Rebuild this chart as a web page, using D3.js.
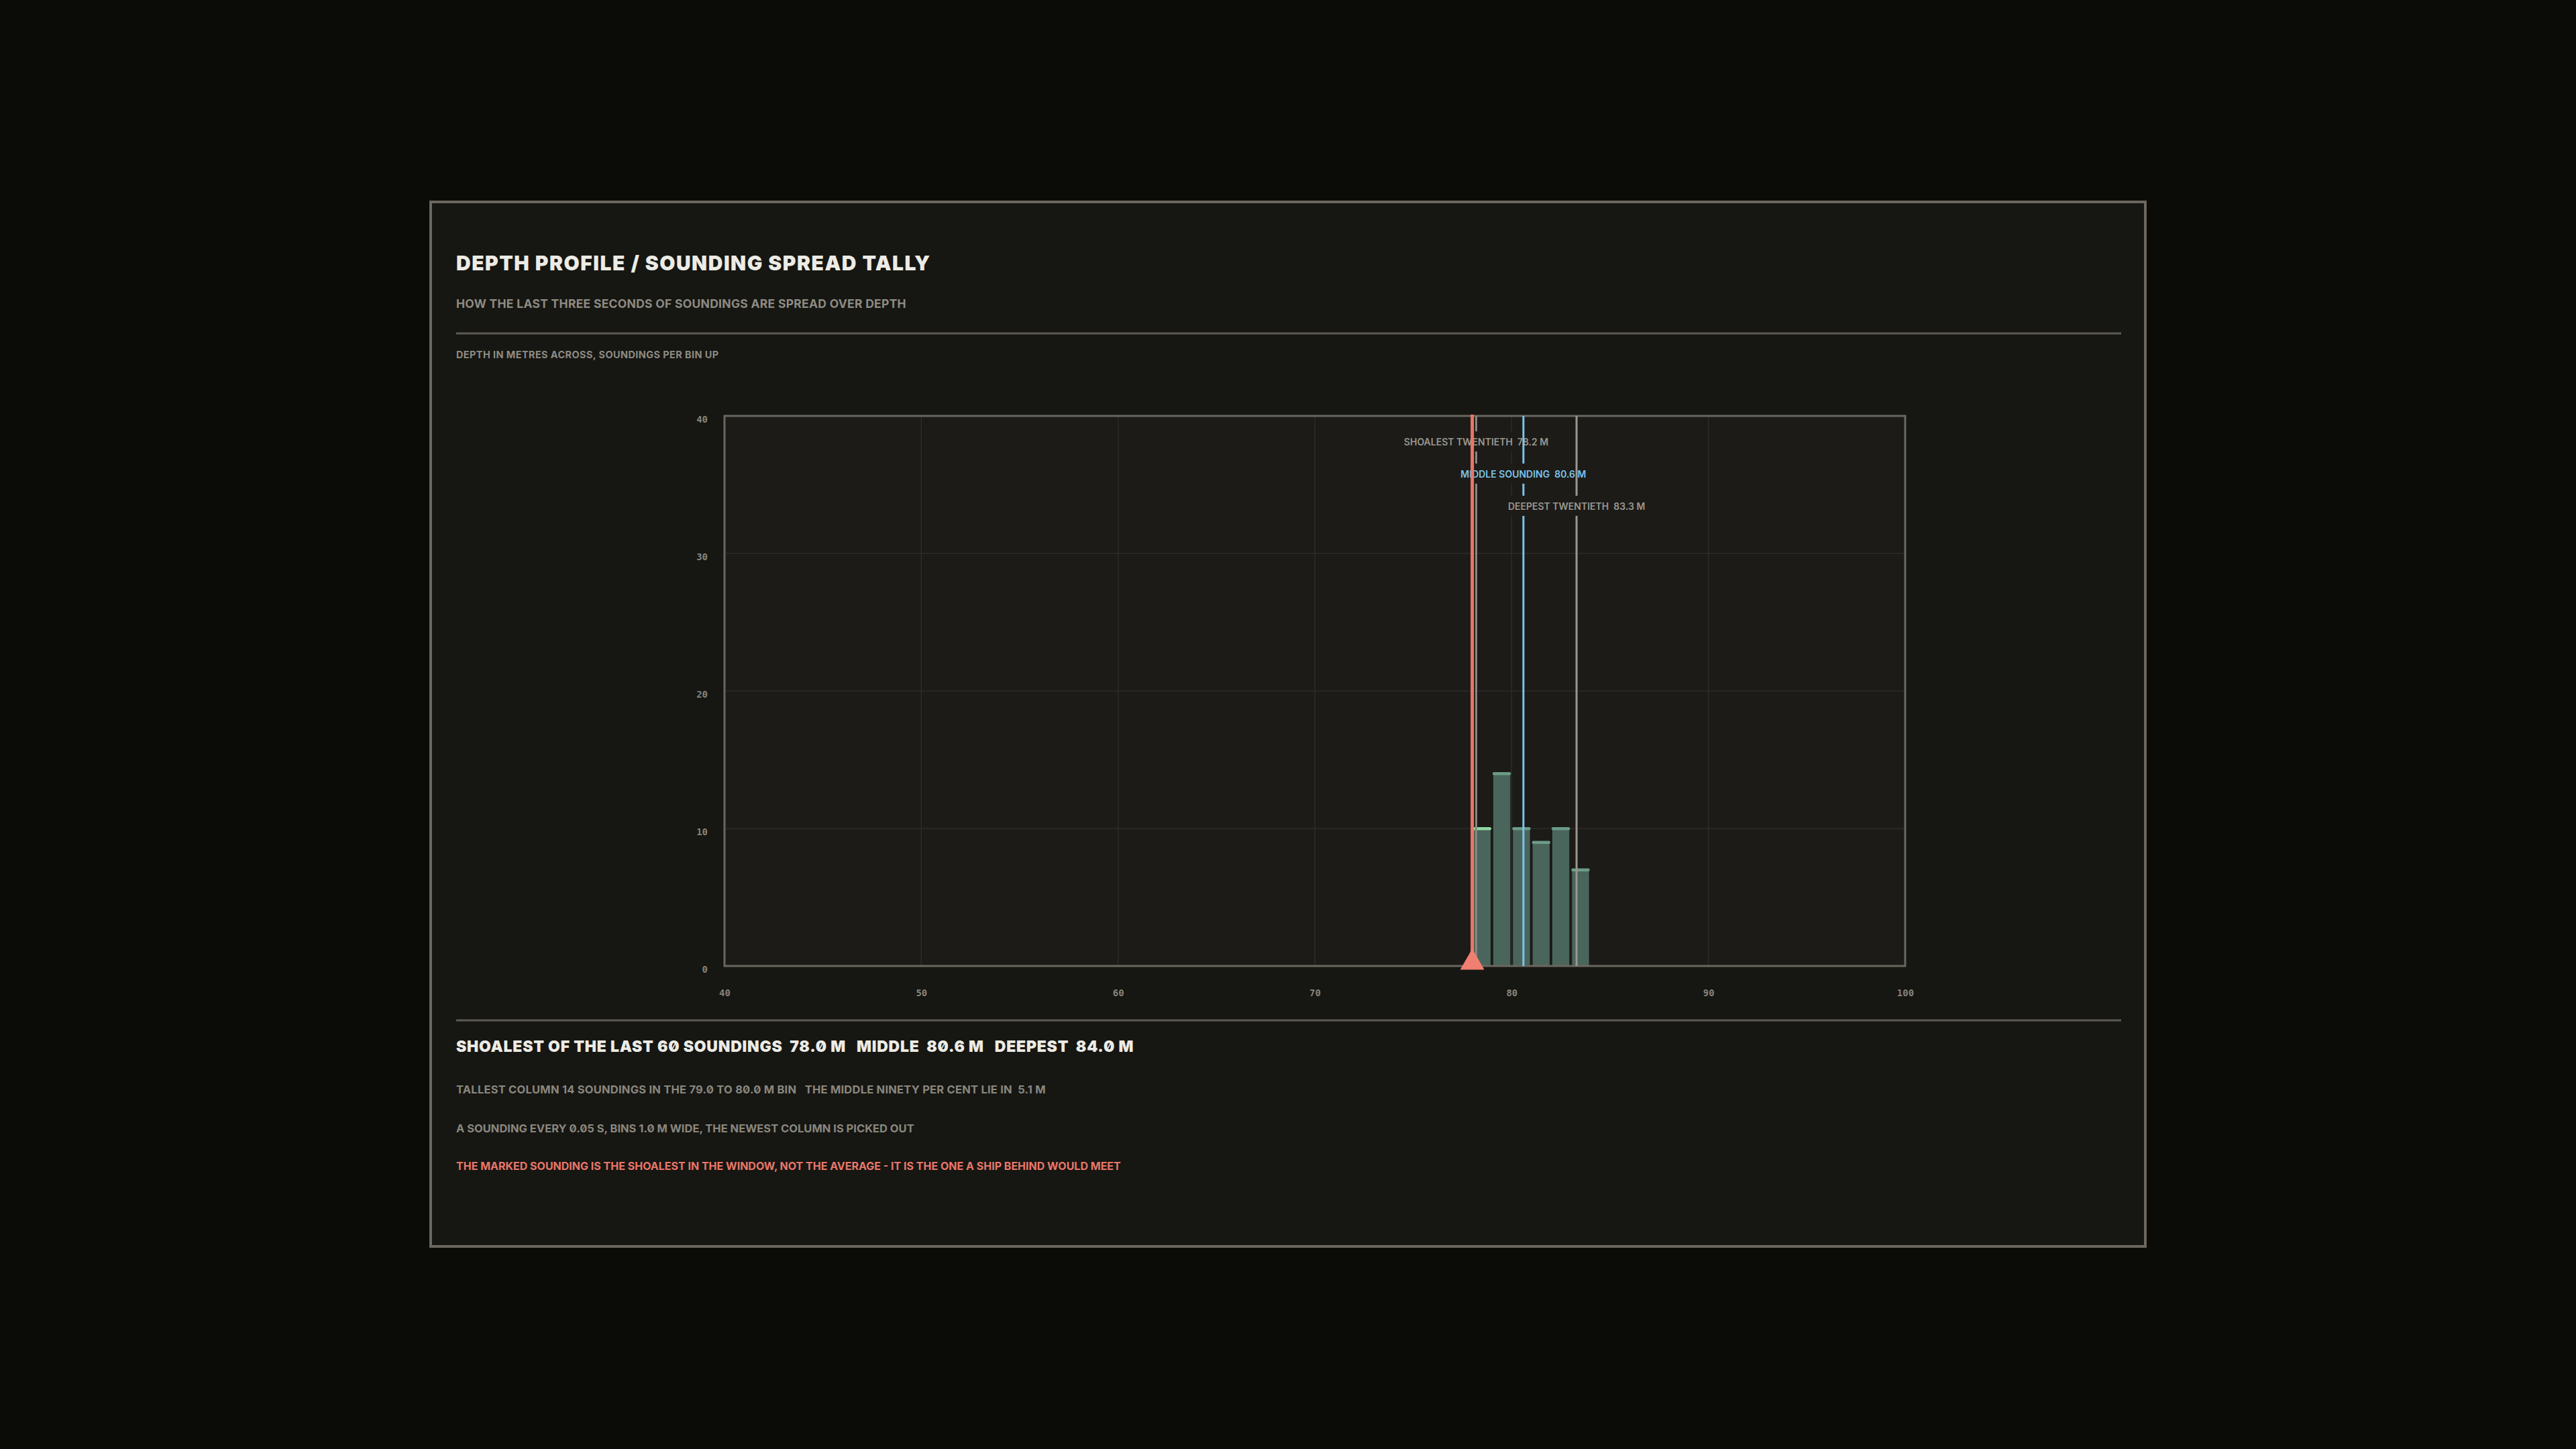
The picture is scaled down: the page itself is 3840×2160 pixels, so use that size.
<!DOCTYPE html>
<html>
<head>
<meta charset="utf-8">
<script src="https://cdn.jsdelivr.net/npm/d3@7"></script>
<style>
  html, body { margin: 0; padding: 0; background: #0b0c08; }
  svg { display: block; }
  .inter { font-family: Inter, "Noto Sans", sans-serif; font-feature-settings: "zero" 1; white-space: pre; }
  .tick text { font-family: "DejaVu Sans Mono", monospace; font-weight: bold; font-size: 14px; fill: #86837b; }
</style>
</head>
<body>
<svg id="chart"></svg>
<script>
// bins of the last 60 soundings (depth in m, count per 1 m bin)
const binStarts = [78, 79, 80, 81, 82, 83];
const binCounts = [10, 14, 10, 9, 10, 7];
const newestBin = 78;

const xTicks = [40, 50, 60, 70, 80, 90, 100];
const yTicks = [0, 10, 20, 30, 40];

const markerNames = ['SHOALEST TWENTIETH', 'MIDDLE SOUNDING', 'DEEPEST TWENTIETH'];
const markerValues = [78.2, 80.6, 83.3];
const markerColors = ['#8a877f', '#7cc4ea', '#9b978f'];

const shoalest = 78.0;
const middle = 80.6;
const deepest = 84.0;
const soundingCount = 60;

const titleText = 'DEPTH PROFILE / SOUNDING SPREAD TALLY';
const subtitleText = 'HOW THE LAST THREE SECONDS OF SOUNDINGS ARE SPREAD OVER DEPTH';
const axisNote = 'DEPTH IN METRES ACROSS, SOUNDINGS PER BIN UP';
const noteLines = [
  'TALLEST COLUMN 14 SOUNDINGS IN THE 79.0 TO 80.0 M BIN   THE MIDDLE NINETY PER CENT LIE IN  5.1 M',
  'A SOUNDING EVERY 0.05 S, BINS 1.0 M WIDE, THE NEWEST COLUMN IS PICKED OUT'
];
const warnText = 'THE MARKED SOUNDING IS THE SHOALEST IN THE WINDOW, NOT THE AVERAGE - IT IS THE ONE A SHIP BEHIND WOULD MEET';

var width = 3840;
var height = 2160;
var plot = { left: 1080, right: 2840, top: 620, bottom: 1440 };

var svg = d3.select('#chart')
  .attr('width', width)
  .attr('height', height);

// card
svg.append('rect')
  .attr('x', 642).attr('y', 301)
  .attr('width', 2556).attr('height', 1557)
  .attr('fill', '#161612')
  .attr('stroke', '#6b675f')
  .attr('stroke-width', 4);

// header text
svg.append('text').attr('class', 'inter')
  .attr('x', 680).attr('y', 403)
  .attr('font-size', 30).attr('font-weight', 900)
  .attr('letter-spacing', 1.5)
  .attr('fill', '#ecebe5')
  .text(titleText);

svg.append('text').attr('class', 'inter')
  .attr('x', 680).attr('y', 459)
  .attr('font-size', 17.5).attr('font-weight', 700)
  .attr('letter-spacing', 0.28)
  .attr('fill', '#8e8b83')
  .text(subtitleText);

svg.append('line')
  .attr('x1', 680).attr('x2', 3162)
  .attr('y1', 497).attr('y2', 497)
  .attr('stroke', '#5d5a53').attr('stroke-width', 3);

svg.append('text').attr('class', 'inter')
  .attr('x', 680).attr('y', 534)
  .attr('font-size', 14.5).attr('font-weight', 700)
  .attr('letter-spacing', 0.4)
  .attr('fill', '#8e8b83')
  .text(axisNote);

///////////////////////////////////////////////////////////////
// scales
var x = d3.scaleLinear()
  .domain([40, 100])
  .range([plot.left, plot.right]);

var y = d3.scaleLinear()
  .domain([0, 40])
  .range([plot.bottom, plot.top]);

// plot background
svg.append('rect')
  .attr('x', plot.left).attr('y', plot.top)
  .attr('width', plot.right - plot.left).attr('height', plot.bottom - plot.top)
  .attr('fill', '#1c1b18');

// grid
svg.append('g').selectAll('line')
  .data(xTicks.slice(1, -1))
  .join('line')
    .attr('x1', d => x(d)).attr('x2', d => x(d))
    .attr('y1', plot.top).attr('y2', plot.bottom)
    .attr('stroke', '#2d2c28').attr('stroke-width', 1.5);

svg.append('g').selectAll('line')
  .data(yTicks.slice(1, -1))
  .join('line')
    .attr('x1', plot.left).attr('x2', plot.right)
    .attr('y1', d => y(d)).attr('y2', d => y(d))
    .attr('stroke', '#2d2c28').attr('stroke-width', 1.5);

// bars
var bins = binStarts.map((b, i) => ({ x0: b, x1: b + 1, count: binCounts[i] }));

svg.append('g').selectAll('rect')
  .data(bins)
  .join('rect')
    .attr('x', d => x(d.x0) + 2)
    .attr('y', d => y(d.count))
    .attr('width', d => x(d.x1) - x(d.x0) - 4)
    .attr('height', d => y(0) - y(d.count))
    .attr('fill', '#4a655b');

svg.append('g').selectAll('rect')
  .data(bins)
  .join('rect')
    .attr('x', d => x(d.x0) + 1)
    .attr('y', d => y(d.count) - 2)
    .attr('width', d => x(d.x1) - x(d.x0) - 2)
    .attr('height', 4.5)
    .attr('rx', 2)
    .attr('fill', d => d.x0 === newestBin ? '#8fd9a2' : '#6c9c8a');

// plot frame
svg.append('rect')
  .attr('x', plot.left).attr('y', plot.top)
  .attr('width', plot.right - plot.left).attr('height', plot.bottom - plot.top)
  .attr('fill', 'none')
  .attr('stroke', '#6b675f').attr('stroke-width', 3);

// markers, each line then its label (later labels cut earlier lines)
markerValues.forEach(function(v, i) {
  var g = svg.append('g');
  g.append('line')
    .attr('x1', x(v)).attr('x2', x(v))
    .attr('y1', plot.top).attr('y2', plot.bottom)
    .attr('stroke', markerColors[i]).attr('stroke-width', 3);
  var base = plot.top + 44 + i * 48;
  var bg = g.append('rect').attr('fill', '#1c1b18');
  var t = g.append('text').attr('class', 'inter')
    .attr('x', x(v)).attr('y', base)
    .attr('text-anchor', 'middle')
    .attr('font-size', 14).attr('font-weight', 600)
    .style('font-feature-settings', 'normal')
    .attr('fill', i === 1 ? '#7cc4ea' : '#9b978f')
    .text(markerNames[i] + '  ' + v.toFixed(1) + ' M');
  var w = t.node().getComputedTextLength();
  bg.attr('x', x(v) - w / 2 - 6).attr('y', base - 21)
    .attr('width', w + 12).attr('height', 30);
});

// shoalest sounding marker
svg.append('line')
  .attr('x1', x(shoalest)).attr('x2', x(shoalest))
  .attr('y1', plot.top - 2).attr('y2', plot.bottom)
  .attr('stroke', '#e8776b').attr('stroke-width', 5);

svg.append('path')
  .attr('d', d3.symbol(d3.symbolTriangle, 560)())
  .attr('transform', 'translate(' + x(shoalest) + ',' + (plot.bottom - 5) + ')')
  .attr('fill', '#f07f71');

///////////////////////////////////////////////////////////////
// axes
svg.append('g')
  .attr('transform', 'translate(0,' + plot.bottom + ')')
  .call(d3.axisBottom(x).tickValues(xTicks).tickSize(0).tickPadding(35))
  .call(g => g.select('.domain').remove());

svg.append('g')
  .attr('transform', 'translate(' + plot.left + ',5)')
  .call(d3.axisLeft(y).tickValues(yTicks).tickSize(0).tickPadding(25))
  .call(g => g.select('.domain').remove());

///////////////////////////////////////////////////////////////
// footer
svg.append('line')
  .attr('x1', 680).attr('x2', 3162)
  .attr('y1', 1521).attr('y2', 1521)
  .attr('stroke', '#5d5a53').attr('stroke-width', 3);

svg.append('text').attr('class', 'inter')
  .attr('x', 680).attr('y', 1568)
  .attr('font-size', 23).attr('font-weight', 900)
  .attr('letter-spacing', 0.75)
  .attr('fill', '#ecebe5')
  .text('SHOALEST OF THE LAST ' + soundingCount + ' SOUNDINGS  ' + shoalest.toFixed(1) + ' M   MIDDLE  '
    + middle.toFixed(1) + ' M   DEEPEST  ' + deepest.toFixed(1) + ' M');

svg.append('g').selectAll('text')
  .data(noteLines)
  .join('text')
    .attr('class', 'inter')
    .attr('x', 680)
    .attr('y', (d, i) => 1630 + i * 58)
    .attr('font-size', 16.5).attr('font-weight', 700)
    .attr('letter-spacing', (d, i) => i === 0 ? 0.23 : 0)
    .attr('fill', '#8a877f')
    .text(d => d);

svg.append('text').attr('class', 'inter')
  .attr('x', 680).attr('y', 1744)
  .attr('font-size', 16).attr('font-weight', 700)
  .attr('fill', '#e8776a')
  .text(warnText);
</script>
</body>
</html>
